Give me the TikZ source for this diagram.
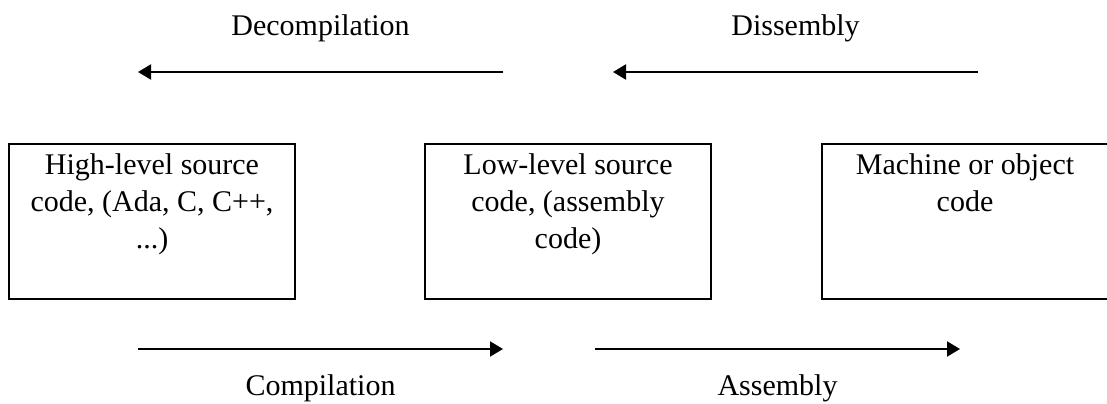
\documentclass[tikz,border=0pt]{standalone}
\usepackage{fontspec}
\setmainfont{Liberation Serif}
\usetikzlibrary{positioning}
\usetikzlibrary{arrows.meta}
\tikzset{
	>={Triangle[length=6.5pt,width=7.5pt]},
	codebox/.style={
		rectangle,
		draw=black, line width=1pt,
		minimum width=143pt,
		minimum height=77.5pt,
		inner sep=0pt},
	boxtext/.style={
		anchor=north,
		inner sep=5pt,
		align=center,
		font=\fontsize{15}{18.5}\selectfont},
	flow/.style={draw, line width=1pt, ->},
	steplabel/.style={font=\fontsize{15}{18}\selectfont, inner sep=0pt},
}
\begin{document}
\begin{tikzpicture}
	[x=0.5pt, y=0.5pt,
	node distance=64pt]

	\useasboundingbox (0,0) rectangle (1107,403);

	% the three kinds of code
	\node[codebox, label={[boxtext]north:{High-level source\\code, (Ada, C, C++,\\...)}}] (highlevel) at (152,181.5) {};
	\node[codebox, right=of highlevel, label={[boxtext]north:{Low-level source\\code, (assembly\\code)}}] (lowlevel) {};
	\node[codebox, right=54.5pt of lowlevel, label={[boxtext]north:{Machine or object\\code}}] (machine) {};

	% ends of the arrows, going back on top and forward below
	\coordinate (decstart) at (503,331);
	\coordinate (decend) at (138,331);
	\coordinate (disstart) at (978,331);
	\coordinate (disend) at (613,331);
	\coordinate (compstart) at (138,54);
	\coordinate (compend) at (503,54);
	\coordinate (asmstart) at (595,54);
	\coordinate (asmend) at (960,54);

	\draw[flow] (decstart) -- (decend) node[steplabel, midway, above=14.7pt] (decomp) {Decompilation};
	\draw[flow] (disstart) -- (disend) node[steplabel, midway, above=14.7pt] (dissem) {Dissembly};
	\draw[flow] (compstart) -- (compend) node[steplabel, midway, below=12.3pt] (comp) {Compilation};
	\draw[flow] (asmstart) -- (asmend) node[steplabel, midway, below=12.3pt] (asm) {Assembly};
\end{tikzpicture}
\end{document}
